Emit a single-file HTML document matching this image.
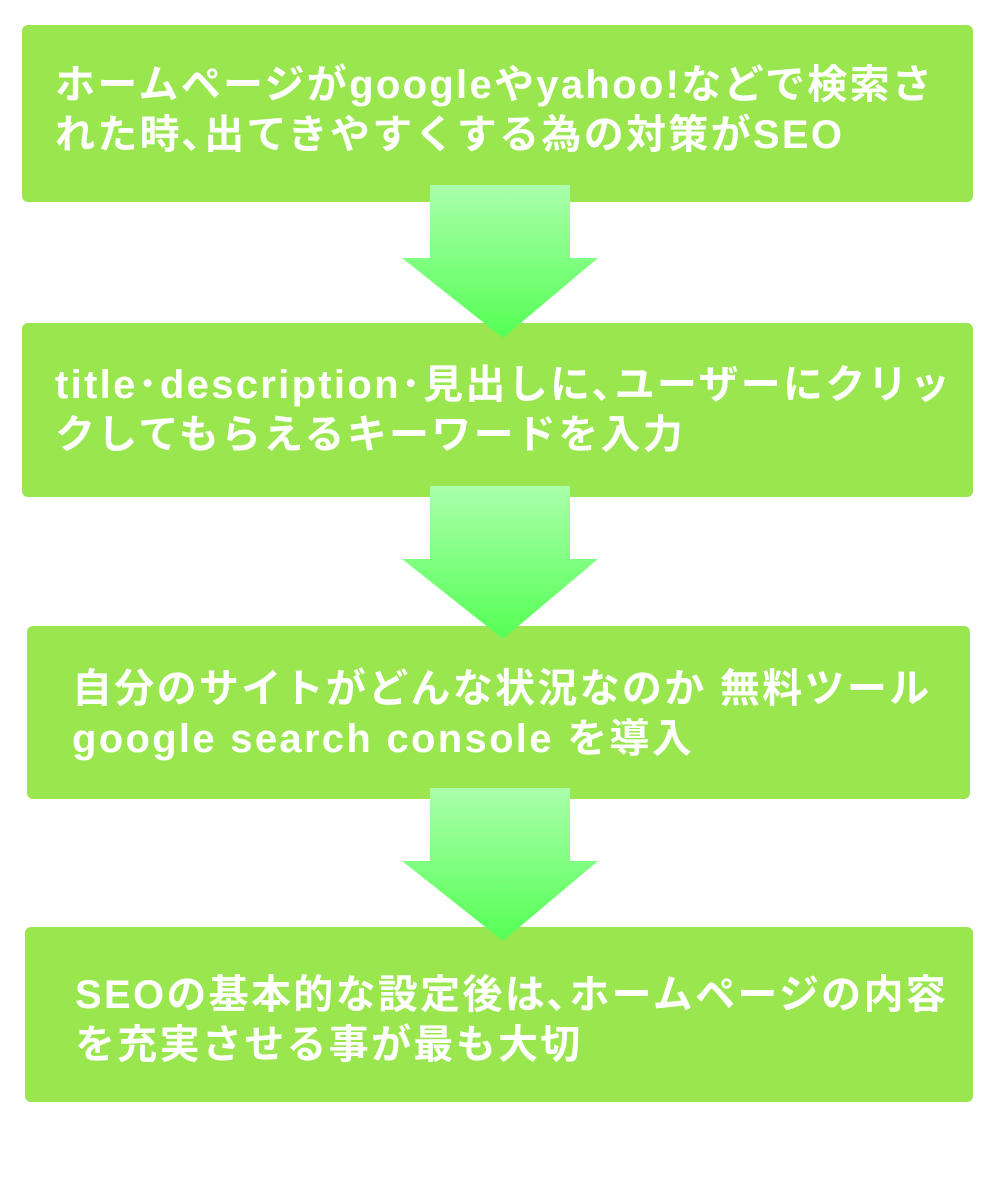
<!DOCTYPE html>
<html><head><meta charset="utf-8"><style>
body{margin:0;width:1000px;height:1200px;background:#fff;position:relative;overflow:hidden;font-family:"Liberation Sans","Noto Sans CJK JP",sans-serif;}
.b{position:absolute;background:#9ae64e;border-radius:6px;}
.t{position:absolute;color:#fff;font-weight:bold;font-size:40px;line-height:50px;white-space:nowrap;letter-spacing:2.3px;}
svg{position:absolute;left:0;top:0;}
</style></head><body>
<div class="b" style="left:22px;top:25px;width:951px;height:177px"></div>
<div class="b" style="left:22px;top:323px;width:951px;height:174px"></div>
<div class="b" style="left:27px;top:626px;width:943px;height:173px"></div>
<div class="b" style="left:25px;top:927px;width:948px;height:175px"></div>
<svg width="1000" height="1200">
<defs><linearGradient id="g" x1="0" y1="0" x2="0" y2="1"><stop offset="0" stop-color="#aaffaa"/><stop offset="1" stop-color="#55ff55"/></linearGradient></defs>
<path d="M430 185H570V258H598L503 338L402 258H430Z" fill="url(#g)"/>
<path d="M430 486H570V559H598L503 639L402 559H430Z" fill="url(#g)"/>
<path d="M430 788H570V861H598L503 941L402 861H430Z" fill="url(#g)"/>
</svg>
<div class="t" style="left:55px;top:60px">ホームページがgoogleやyahoo!などで検索さ<br>れた時､出てきやすくする為の対策がSEO</div>
<div class="t" style="left:55px;top:360px">title･description･見出しに､ユーザーにクリッ<br>クしてもらえるキーワードを入力</div>
<div class="t" style="left:72px;top:664px">自分のサイトがどんな状況なのか 無料ツール<br>google search console を導入</div>
<div class="t" style="left:75px;top:970px">SEOの基本的な設定後は､ホームページの内容<br>を充実させる事が最も大切</div>
</body></html>
